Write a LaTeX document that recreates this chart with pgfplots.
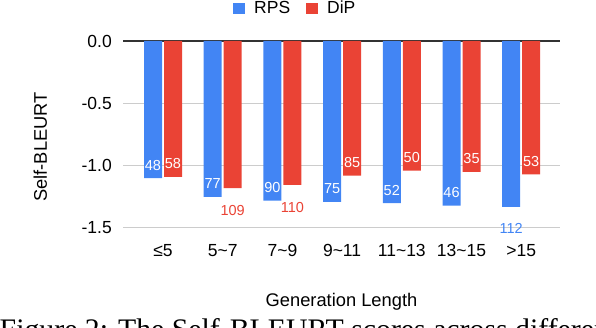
\documentclass[border=0pt]{standalone}
\usepackage{fontspec}
\setmainfont{Liberation Sans}
\newfontfamily\capfont{Liberation Serif}
\usepackage{pgfplots}
\pgfplotsset{compat=1.18}
\definecolor{rpsblue}{HTML}{4285F4}
\definecolor{dipred}{HTML}{EA4335}
\definecolor{gridgray}{HTML}{CCCCCC}
\definecolor{zeroline}{HTML}{333333}
\newcommand{\tickfont}{\fontsize{17.5}{20}\selectfont}
\newcommand{\titlefont}{\fontsize{18.3}{21}\selectfont}
\newcommand{\labfont}{\fontsize{14.5}{16}\selectfont}
\pgfplotsset{sq legend/.style={legend image code/.code={\fill[##1,/tikz/.cd] (0pt,-0.5pt) rectangle (11.5pt,11pt);}}}
\begin{document}
\begin{tikzpicture}
\begin{axis}[
  at={(123pt,100pt)}, anchor=south west,
  scale only axis, width=437pt, height=187pt,
  xmin=-0.67, xmax=6.65, ymin=-1.5, ymax=0,
  enlargelimits=false, clip=false,
  axis line style={draw=none},
  major tick length=0pt,
  xtick={0,1,2,3,4,5,6},
  xticklabels={≤5,5\textasciitilde7,7\textasciitilde9,9\textasciitilde11,11\textasciitilde13,13\textasciitilde15,>15},
  xticklabel style={font=\tickfont, anchor=base, inner sep=0pt, yshift=-28.7pt},
  ytick={-1.5,-1,-0.5},
  yticklabels={-1.5,-1.0,-0.5},
  extra y ticks={0},
  extra y tick labels={0.0},
  extra y tick style={grid style={draw=zeroline, line width=1.3pt}},
  yticklabel style={font=\tickfont, anchor=east, inner sep=0pt, xshift=-11pt},
  ymajorgrids, grid style={draw=gridgray, line width=1pt},
  xlabel={Generation Length},
  xlabel style={at={(axis description cs:0.5,-0.421)}, anchor=base, inner sep=0pt, font=\titlefont},
  ylabel={Self-BLEURT},
  ylabel style={at={(axis description cs:-0.189,0.433)}, anchor=center, inner sep=0pt, font=\titlefont},
  legend columns=2,
  legend style={at={(axis description cs:0.392,1.176)}, anchor=center, draw=none, fill=none,
    font=\tickfont, inner sep=0pt,
    /tikz/every odd column/.append style={column sep=9.5pt},
    /tikz/every even column/.append style={column sep=16pt},
    nodes={inner sep=0pt, anchor=base west}},
]
\addplot[ybar, bar width=18pt, bar shift=-10pt, fill=rpsblue, draw=none, sq legend]
  coordinates {(0,-1.10) (1,-1.25) (2,-1.28) (3,-1.29) (4,-1.30) (5,-1.32) (6,-1.33)};
\addlegendentry{RPS}
\addplot[ybar, bar width=18pt, bar shift=10pt, fill=dipred, draw=none, sq legend]
  coordinates {(0,-1.09) (1,-1.18) (2,-1.155) (3,-1.08) (4,-1.04) (5,-1.05) (6,-1.07)};
\addlegendentry{DiP}
% value labels inside the bars (white)
\addplot[only marks, mark=*, mark size=0pt, mark options={draw=none, fill=none},
  nodes near coords, point meta=explicit symbolic,
  nodes near coords style={anchor=base, inner sep=0pt, font=\labfont, text=white}, forget plot]
  coordinates {(-0.1675,-1.036)[48] (0.8325,-1.186)[77] (1.8325,-1.216)[90] (2.8325,-1.226)[75]
               (3.8325,-1.236)[52] (4.8325,-1.256)[46]
               (0.1675,-1.026)[58] (3.1675,-1.016)[85] (4.1675,-0.972)[50] (5.1675,-0.986)[35] (6.1675,-1.006)[53]};
% value labels below the bars (coloured)
\addplot[only marks, mark=*, mark size=0pt, mark options={draw=none, fill=none},
  nodes near coords, point meta=explicit symbolic,
  nodes near coords style={anchor=base, inner sep=0pt, font=\labfont, text=dipred}, forget plot]
  coordinates {(1.1675,-1.401)[109] (2.1675,-1.379)[110]};
\addplot[only marks, mark=*, mark size=0pt, mark options={draw=none, fill=none},
  nodes near coords, point meta=explicit symbolic,
  nodes near coords style={anchor=base, inner sep=0pt, font=\labfont, text=rpsblue}, forget plot]
  coordinates {(5.8325,-1.548)[112]};
\end{axis}
\node[anchor=base west, inner sep=0pt, font=\capfont\fontsize{29.8}{31}\selectfont] at (-0.5pt,-11.7pt) {Figure 2: The Self-BLEURT scores across different};
\pgfresetboundingbox
\useasboundingbox (0,0) rectangle (596pt,328pt);
\end{tikzpicture}
\end{document}
